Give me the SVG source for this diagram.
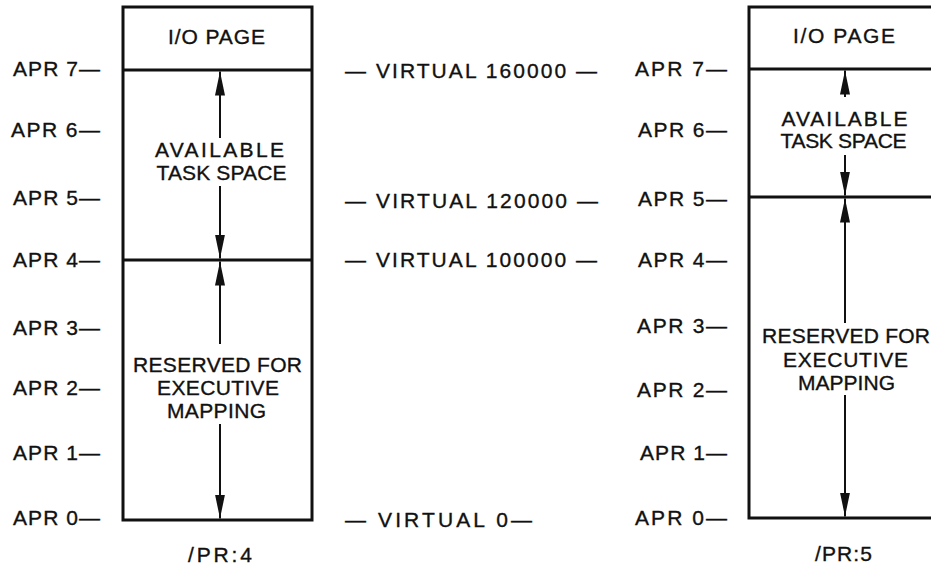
<svg xmlns="http://www.w3.org/2000/svg" width="931" height="565" viewBox="0 0 931 565">
<style>
text{font-family:"Liberation Sans",Arial,sans-serif;fill:#111;stroke:#111;stroke-width:0.35px}
.lbl{font-size:21px}
.box{font-size:21px;text-anchor:middle}
.v{font-size:21px}
.frame{fill:none;stroke:#111;stroke-width:3}
.div{stroke:#111;stroke-width:3}
.arr{stroke:#111;stroke-width:2;fill:none;marker-end:url(#ah)}
</style>
<defs>
<marker id="ah" viewBox="0 0 24 10" refX="24" refY="5" markerWidth="24" markerHeight="10" markerUnits="userSpaceOnUse" orient="auto">
<path d="M0,0 L24,5 L0,10 Z" fill="#111"/>
</marker>
</defs>
<rect width="931" height="565" fill="#fff"/>

<g id="labels-left">
<text class="lbl" x="13" y="76" textLength="87">APR 7—</text>
<text class="lbl" x="11" y="137" textLength="89">APR 6—</text>
<text class="lbl" x="13" y="205" textLength="87">APR 5—</text>
<text class="lbl" x="13" y="267" textLength="87">APR 4—</text>
<text class="lbl" x="13" y="335" textLength="87">APR 3—</text>
<text class="lbl" x="13" y="395" textLength="87">APR 2—</text>
<text class="lbl" x="13" y="460" textLength="87">APR 1—</text>
<text class="lbl" x="13" y="525" textLength="87">APR 0—</text>
</g>

<g id="pr4">
<rect class="frame" x="123" y="7" width="189" height="513"/>
<line class="div" x1="123" y1="70" x2="312" y2="70"/>
<line class="div" x1="123" y1="260" x2="312" y2="260"/>
<text class="box" x="216.5" y="44" textLength="97">I/O PAGE</text>
<text class="box" x="219.5" y="157" textLength="129">AVAILABLE</text>
<text class="box" x="221.5" y="180" textLength="130">TASK SPACE</text>
<text class="box" x="217.5" y="372" textLength="169">RESERVED FOR</text>
<text class="box" x="218" y="395" textLength="122">EXECUTIVE</text>
<text class="box" x="216.5" y="418" textLength="99">MAPPING</text>
<text class="box" x="220" y="562" textLength="64">/PR:4</text>
</g>

<g id="virtual-labels">
<text class="v" x="345" y="78" textLength="252">— VIRTUAL 160000 —</text>
<text class="v" x="345" y="208" textLength="253">— VIRTUAL 120000 —</text>
<text class="v" x="345" y="267" textLength="252">— VIRTUAL 100000 —</text>
<text class="v" x="345" y="527" textLength="187">— VIRTUAL 0—</text>
</g>

<g id="labels-right">
<text class="lbl" x="635" y="76" textLength="92">APR 7—</text>
<text class="lbl" x="638" y="137" textLength="89">APR 6—</text>
<text class="lbl" x="638" y="206" textLength="89">APR 5—</text>
<text class="lbl" x="638" y="267" textLength="89">APR 4—</text>
<text class="lbl" x="637" y="333" textLength="90">APR 3—</text>
<text class="lbl" x="637" y="397" textLength="90">APR 2—</text>
<text class="lbl" x="640" y="460" textLength="87">APR 1—</text>
<text class="lbl" x="635" y="525" textLength="92">APR 0—</text>
</g>

<g id="pr5">
<path class="frame" d="M945,7 H749 V518 H945"/>
<line class="div" x1="749" y1="69" x2="931" y2="69"/>
<line class="div" x1="749" y1="197" x2="931" y2="197"/>
<text class="box" x="844" y="43" textLength="102">I/O PAGE</text>
<text class="box" x="844.5" y="125.5" textLength="126">AVAILABLE</text>
<text class="box" x="843.5" y="147.5" textLength="126">TASK SPACE</text>
<text class="box" x="846" y="343" textLength="168">RESERVED FOR</text>
<text class="box" x="845.5" y="367" textLength="125">EXECUTIVE</text>
<text class="box" x="846.5" y="390" textLength="97">MAPPING</text>
<text class="box" x="843.5" y="561" textLength="57">/PR:5</text>
</g>

<g id="connectors">
<line class="arr" x1="220" y1="138" x2="220" y2="71.5"/>
<line class="arr" x1="220" y1="186" x2="220" y2="258.5"/>
<line class="arr" x1="220" y1="344" x2="220" y2="261.5"/>
<line class="arr" x1="220" y1="424" x2="220" y2="518.5"/>
<line class="arr" x1="845" y1="97" x2="845" y2="70.5"/>
<line class="arr" x1="845" y1="155" x2="845" y2="195.5"/>
<line class="arr" x1="845" y1="323" x2="845" y2="198.5"/>
<line class="arr" x1="845" y1="395" x2="845" y2="516.5"/>
</g>
</svg>
